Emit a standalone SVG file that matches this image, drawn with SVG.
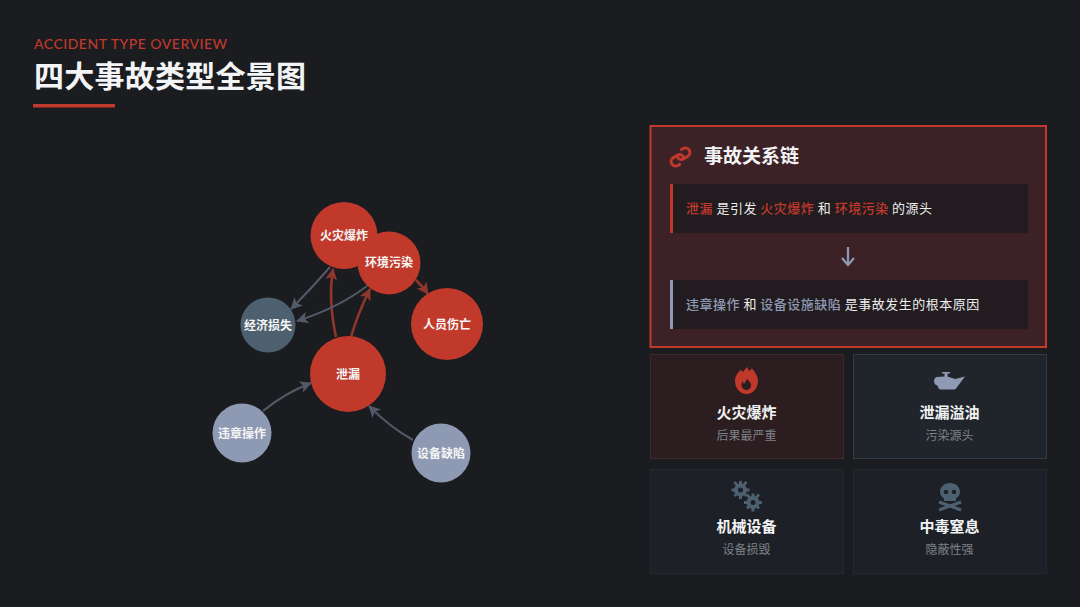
<svg xmlns="http://www.w3.org/2000/svg" width="1080" height="607" viewBox="0 0 1080 607">
<style>
text{font-family:"Noto Sans CJK SC","Noto Sans",sans-serif}
.n{font-size:12px;font-weight:700;fill:#f4f4f4;text-anchor:middle}
.t{font-size:15px;font-weight:700;fill:#f2f3f4;text-anchor:middle}
.s{font-size:12px;fill:#7d8288;text-anchor:middle}
.b{font-size:13px;fill:#eceded;letter-spacing:.5px}
.r{fill:#c0392b}.g{fill:#8e99b3}
.er{fill:none;stroke:#8f362d;stroke-width:2.6}
.eg{fill:none;stroke:#525a67;stroke-width:2}
</style>
<defs>
<marker id="ar" markerUnits="userSpaceOnUse" markerWidth="14" markerHeight="14" refX="11" refY="6" orient="auto"><path d="M0 0L12 6L0 12L3 6Z" fill="#8f362d"/></marker>
<marker id="ag" markerUnits="userSpaceOnUse" markerWidth="14" markerHeight="14" refX="11" refY="6" orient="auto"><path d="M0 0L12 6L0 12L3 6Z" fill="#525a67"/></marker>
</defs>
<rect width="1080" height="607" fill="#1a1c20"/>
<g id="header">
<text x="34" y="49" font-size="14" font-weight="500" letter-spacing="0.5" fill="#c0392b" style="font-family:Lato,'Liberation Sans',sans-serif">ACCIDENT TYPE OVERVIEW</text>
<text x="34" y="87" font-size="30" font-weight="700" letter-spacing="0.25" fill="#f3f4f5">四大事故类型全景图</text>
<rect x="33" y="104" width="82" height="3.5" fill="#c0392b"/>
</g>
<g id="connectors">
<path class="er" d="M336 337Q328 300 333 269" marker-end="url(#ar)"/>
<path class="er" d="M351 337Q358 313 370 289" marker-end="url(#ar)"/>
<path class="er" d="M416 280Q423 287 428 294" marker-end="url(#ar)"/>
<path class="eg" d="M330 267Q312 288 291 309" marker-end="url(#ag)"/>
<path class="eg" d="M367 286Q338 308 297 321" marker-end="url(#ag)"/>
<path class="eg" d="M263 411Q285 393 311 383" marker-end="url(#ag)"/>
<path class="eg" d="M413 440Q391 428 369 406" marker-end="url(#ag)"/>
</g>
<g id="node-fire"><circle cx="344" cy="235.5" r="33.5" class="r"/><text x="344" y="240" class="n">火灾爆炸</text></g>
<g id="node-env"><circle cx="389" cy="263" r="31.5" class="r"/><text x="389" y="267" class="n">环境污染</text></g>
<g id="node-injury"><circle cx="447" cy="324" r="36" class="r"/><text x="447" y="328.5" class="n">人员伤亡</text></g>
<g id="node-loss"><circle cx="268" cy="325" r="27.5" fill="#4d6070"/><text x="268" y="329.5" class="n">经济损失</text></g>
<g id="node-leak"><circle cx="348" cy="374" r="38" class="r"/><text x="348" y="378.5" class="n">泄漏</text></g>
<g id="node-violation"><circle cx="242" cy="433" r="29.5" fill="#8e99b3"/><text x="242" y="437.5" class="n">违章操作</text></g>
<g id="node-defect"><circle cx="441" cy="453" r="29.5" fill="#8e99b3"/><text x="441" y="457.5" class="n">设备缺陷</text></g>
<g id="chain-panel">
<rect x="650.5" y="126" width="395.5" height="221" fill="#3c2226" stroke="#c0392b" stroke-width="2"/>
<g fill="none" stroke="#c0392b" stroke-width="3" stroke-linecap="round" transform="rotate(-30 680.5 157)"><path d="M683 158a4 4 0 0 0-4-4h-5a4.5 4.5 0 0 0 0 9h2"/><path d="M678 156a4 4 0 0 0 4 4h5a4.5 4.500 0 0 0 0-9h-2"/></g>
<text x="704" y="163" font-size="19" font-weight="700" fill="#f2f3f4">事故关系链</text>
<rect x="670" y="184" width="358" height="49" fill="#221c20"/>
<rect x="670" y="184" width="3" height="49" fill="#c0392b"/>
<text x="686" y="213" class="b"><tspan fill="#c0392b" font-weight="500">泄漏</tspan> 是引发 <tspan fill="#c0392b" font-weight="500">火灾爆炸</tspan> 和 <tspan fill="#c0392b" font-weight="500">环境污染</tspan> 的源头</text>
<path d="M848 247V264M842 258L848 265L854 258" fill="none" stroke="#8e99b3" stroke-width="2.2"/>
<rect x="670" y="280" width="358" height="49" fill="#221c20"/>
<rect x="670" y="280" width="3" height="49" fill="#8e99b3"/>
<text x="686" y="309" class="b"><tspan fill="#8e99b3" font-weight="500">违章操作</tspan> 和 <tspan fill="#8e99b3" font-weight="500">设备设施缺陷</tspan> 是事故发生的根本原因</text>
</g>
<g id="card-fire">
<rect x="650.5" y="354.5" width="193" height="104" fill="#2c1d20" stroke="#3d2a2d"/>
<path d="M747 367L749 371L752 368.5C755 372 758 376 758 381C758 388 753 394 746.500 394C740 394 735 388 735 381C735 376 738 372 741 370L743 372Z" fill="#c0392b"/>
<path d="M742 381L744 384L747 379C749 381 751 383 751 385C751 388 749 390 746.5 390C744 390 742 388 741.5 386Z" fill="#2c1d20"/>
<text x="746.5" y="418" class="t">火灾爆炸</text><text x="746.5" y="440" class="s">后果最严重</text>
</g>
<g id="card-oil">
<rect x="853.5" y="354.5" width="193" height="104" fill="#20252b" stroke="#343a41"/>
<path d="M942 372H950V373.5H947.5V376.5L955 379L965 376.5L956 388.5Q955.500 389.5 954 389.5H941Q938.5 389.5 938 387L937.500 385.5C933 385 933 377.5 937 377L944.5 376.5V373.5H942Z" fill="#8e99b3"/>
<text x="949.5" y="418" class="t">泄漏溢油</text><text x="949.5" y="440" class="s">污染源头</text>
</g>
<g id="card-machine">
<rect x="650.5" y="469.5" width="193" height="104" fill="#1d2127" stroke="#24282e"/>
<g fill="#4d6070"><circle cx="740.5" cy="490" r="6.5"/><circle cx="753" cy="502.5" r="6.5"/>
<path d="M739 481h3v18h-3zM731.5 488.5h18v3h-18zM733.5 483l2-2 12 14-2 2zM745.5 481l2 2-12 14-2-2z"/>
<path d="M751.5 493.5h3v18h-3zM744 501h18v3h-18zM746 495.5l2-2 12 14-2 2zM758 493.5l2 2-12 14-2-2z"/></g>
<circle cx="740.5" cy="490" r="2.5" fill="#1d2127"/><circle cx="753" cy="502.5" r="2.5" fill="#1d2127"/>
<text x="746.5" y="532" class="t">机械设备</text><text x="746.5" y="554" class="s">设备损毁</text>
</g>
<g id="card-poison">
<rect x="853.5" y="469.5" width="193" height="104" fill="#1d2127" stroke="#24282e"/>
<path d="M950 483C956 483 960 487 960 492C960 495 958 497 956 498.5V501H944V498.5C942 497 940 495 940 492C940 487 944 483 950 483Z" fill="#4d6070"/>
<circle cx="946" cy="492" r="2.3" fill="#1d2127"/><circle cx="954" cy="492" r="2.3" fill="#1d2127"/>
<path d="M939 502L961 510M961 502L939 510" stroke="#4d6070" stroke-width="3"/>
<text x="949.5" y="532" class="t">中毒窒息</text><text x="949.5" y="554" class="s">隐蔽性强</text>
</g>
</svg>
